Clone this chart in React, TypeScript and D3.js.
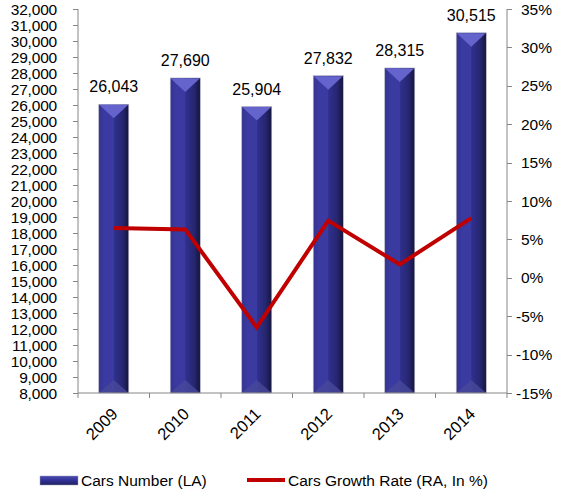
import React, { useEffect, useRef } from 'react';
import * as d3 from 'd3';

// chart data
const years = ['2009', '2010', '2011', '2012', '2013', '2014'];
const carsNumber = [26043, 27690, 25904, 27832, 28315, 30515];
const growthRate = [6.5, 6.3, -6.45, 7.44, 1.74, 7.77];
const leftTicks = d3.range(8000, 32001, 1000);
const rightTicks = [-15, -10, -5, 0, 5, 10, 15, 20, 25, 30, 35];

const W = 564;
const H = 497;
const FONT = '"Liberation Sans", Arial, sans-serif';

function App() {
    const ref = useRef<SVGSVGElement>(null);

    useEffect(() => {
        const svg = d3.select(ref.current);
        svg.selectAll('*').remove();

        const left = 78, right = 507, top = 9, bottom = 393;

        const x = d3.scaleBand().domain(years).range([left, right]).paddingInner(0.58).paddingOuter(0.29);
        const yL = d3.scaleLinear().domain([8000, 32000]).range([bottom, top]);
        const yR = d3.scaleLinear().domain([-15, 35]).range([bottom, top]);
        const xCenter = (d: string) => (x(d) as number) + x.bandwidth() / 2;

        // gradients
        const defs = svg.append('defs');
        const grad = defs.append('linearGradient').attr('id', 'barGrad')
            .attr('x1', '0').attr('x2', '1').attr('y1', '0').attr('y2', '0');
        grad.append('stop').attr('offset', '0').attr('stop-color', '#34348f');
        grad.append('stop').attr('offset', '0.2').attr('stop-color', '#3a3aa2');
        grad.append('stop').attr('offset', '0.5').attr('stop-color', '#3a3aa0');
        grad.append('stop').attr('offset', '0.51').attr('stop-color', '#303090');
        grad.append('stop').attr('offset', '0.8').attr('stop-color', '#26266f');
        grad.append('stop').attr('offset', '1').attr('stop-color', '#14143c');

        const legGrad = defs.append('linearGradient').attr('id', 'legGrad')
            .attr('x1', '0').attr('x2', '0').attr('y1', '0').attr('y2', '1');
        legGrad.append('stop').attr('offset', '0').attr('stop-color', '#4a4ab0');
        legGrad.append('stop').attr('offset', '0.5').attr('stop-color', '#303095');
        legGrad.append('stop').attr('offset', '1').attr('stop-color', '#20205e');

        // bars
        const bars = svg.append('g').selectAll('g').data(years).enter().append('g');
        const bw = x.bandwidth();
        bars.append('rect')
            .attr('x', d => x(d) as number)
            .attr('y', (d, i) => yL(carsNumber[i]))
            .attr('width', bw)
            .attr('height', (d, i) => bottom - yL(carsNumber[i]))
            .attr('fill', 'url(#barGrad)')
            .attr('stroke', '#b8b8c8')
            .attr('stroke-width', 0.6);
        // top bevel
        bars.append('path')
            .attr('d', (d, i) => {
                const x0 = x(d) as number, y0 = yL(carsNumber[i]);
                return `M${x0 + 0.5},${y0 + 0.5} L${x0 + bw - 0.5},${y0 + 0.5} L${x0 + bw / 2},${y0 + 14} Z`;
            })
            .attr('fill', '#6464cc');
        // bottom bevel
        bars.append('path')
            .attr('d', (d) => {
                const x0 = x(d) as number;
                return `M${x0 + 0.5},${bottom - 0.5} L${x0 + bw - 0.5},${bottom - 0.5} L${x0 + bw / 2},${bottom - 13} Z`;
            })
            .attr('fill', '#48489a')
            .attr('opacity', 0.8);

        // value labels
        bars.append('text')
            .attr('x', d => xCenter(d))
            .attr('y', (d, i) => yL(carsNumber[i]) - 12)
            .attr('text-anchor', 'middle')
            .attr('font-family', FONT)
            .attr('font-size', 16)
            .attr('fill', '#000')
            .text((d, i) => d3.format(',')(carsNumber[i]));

        // axes lines
        const axisColor = '#868686';
        svg.append('line').attr('x1', left).attr('x2', left).attr('y1', top).attr('y2', bottom).attr('stroke', axisColor);
        svg.append('line').attr('x1', right).attr('x2', right).attr('y1', top).attr('y2', bottom).attr('stroke', axisColor);
        svg.append('line').attr('x1', left).attr('x2', right).attr('y1', bottom).attr('y2', bottom).attr('stroke', axisColor);

        // left ticks
        const lt = svg.append('g');
        lt.selectAll('line').data(leftTicks).enter().append('line')
            .attr('x1', left - 5).attr('x2', left)
            .attr('y1', d => Math.round(yL(d)) + 0.5).attr('y2', d => Math.round(yL(d)) + 0.5)
            .attr('stroke', axisColor);
        lt.selectAll('text').data(leftTicks).enter().append('text')
            .attr('x', 57)
            .attr('y', d => yL(d))
            .attr('dy', '0.36em')
            .attr('text-anchor', 'end')
            .attr('font-family', FONT)
            .attr('font-size', 15.5)
            .attr('letter-spacing', -0.2)
            .text(d => d3.format(',')(d));

        // right ticks
        const rt = svg.append('g');
        rt.selectAll('line').data(rightTicks).enter().append('line')
            .attr('x1', right).attr('x2', right + 5)
            .attr('y1', d => Math.round(yR(d)) + 0.5).attr('y2', d => Math.round(yR(d)) + 0.5)
            .attr('stroke', axisColor);
        rt.selectAll('text').data(rightTicks).enter().append('text')
            .attr('x', d => (d < 0 ? 516 : 521))
            .attr('y', d => yR(d))
            .attr('dy', '0.36em')
            .attr('font-family', FONT)
            .attr('font-size', 15.5)
            .text(d => `${d}%`);

        // bottom ticks at category boundaries
        const step = (right - left) / years.length;
        svg.append('g').selectAll('line').data(d3.range(years.length + 1)).enter().append('line')
            .attr('x1', i => left + i * step).attr('x2', i => left + i * step)
            .attr('y1', bottom).attr('y2', bottom + 5)
            .attr('stroke', axisColor);

        // x labels
        svg.append('g').selectAll('text').data(years).enter().append('text')
            .attr('transform', d => `translate(${xCenter(d) + 5},${bottom + 22}) rotate(-45)`)
            .attr('text-anchor', 'end')
            .attr('font-family', FONT)
            .attr('font-size', 16.5)
            .text(d => d);

        // growth line
        const line = d3.line<number>()
            .x((d, i) => xCenter(years[i]))
            .y(d => yR(d));
        svg.append('path')
            .datum(growthRate)
            .attr('d', line)
            .attr('fill', 'none')
            .attr('stroke', '#C00000')
            .attr('stroke-width', 4)
            .attr('stroke-linejoin', 'miter');

        // legend
        const lg = svg.append('g');
        lg.append('rect').attr('x', 40).attr('y', 476).attr('width', 38).attr('height', 9)
            .attr('fill', 'url(#legGrad)').attr('stroke', '#9a9ab8').attr('stroke-width', 0.5);
        lg.append('text').attr('x', 81).attr('y', 486)
            .attr('font-family', FONT).attr('font-size', 15.5).text('Cars Number (LA)');
        lg.append('line').attr('x1', 247).attr('x2', 285).attr('y1', 480).attr('y2', 480)
            .attr('stroke', '#C00000').attr('stroke-width', 4);
        lg.append('text').attr('x', 288).attr('y', 486)
            .attr('font-family', FONT).attr('font-size', 15.5).text('Cars Growth Rate (RA, In %)');
    }, []);

    return (
        <svg ref={ref} width={W} height={H}
             style={{ position: 'absolute', left: 0, top: 0, background: '#fff' }} />
    );
}

export default App;
